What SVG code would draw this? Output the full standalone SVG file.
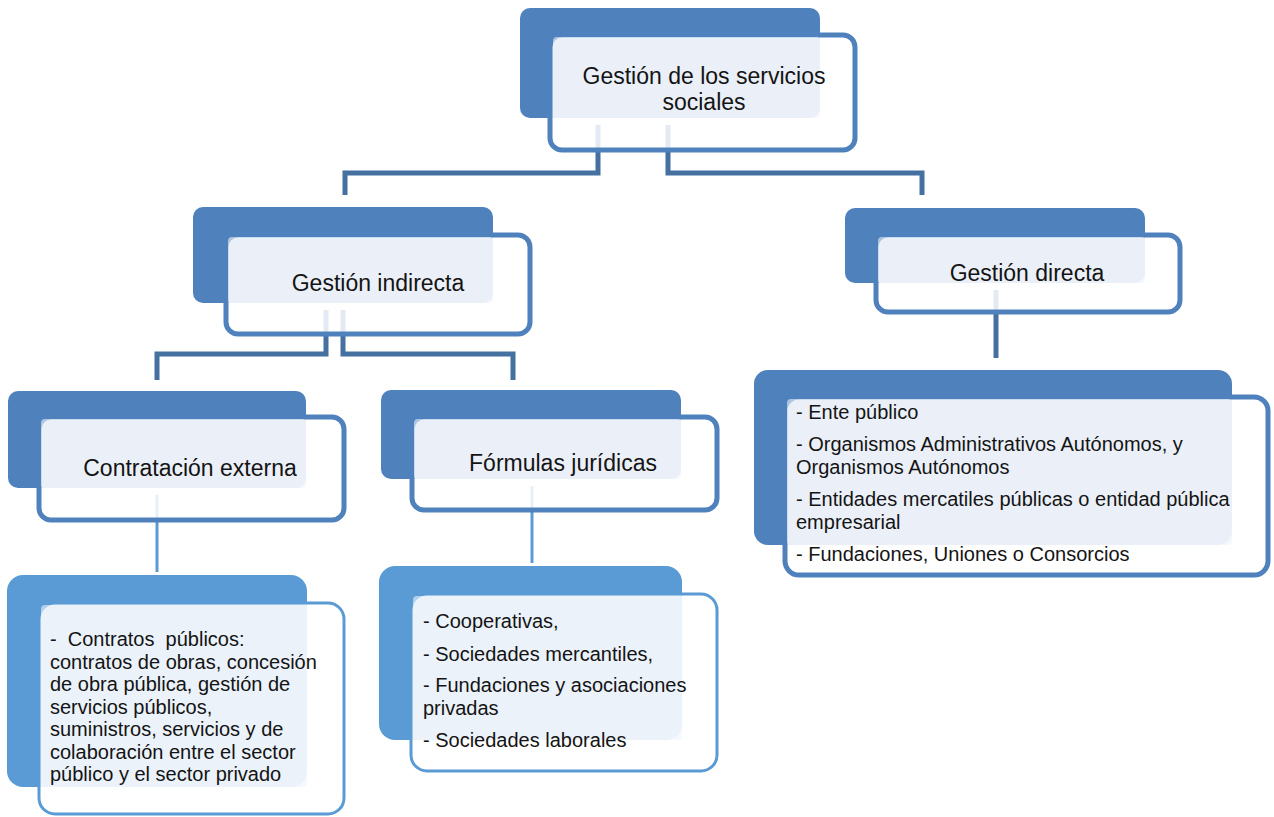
<svg xmlns="http://www.w3.org/2000/svg" width="1274" height="817" viewBox="0 0 1274 817">
<style>
.bk{fill:#4F81BD}
.bkl{fill:#5B9BD5}
.fr{fill:#ffffff;fill-opacity:0.85;stroke:#4F81BD;stroke-width:5}
.frl{fill:#ffffff;fill-opacity:0.85;stroke:#5B9BD5;stroke-width:3}
.lb{fill:#EEF3FA;fill-opacity:0.6}
.c1{fill:none;stroke:#44719F;stroke-width:5}
.c2{fill:none;stroke:#5B9BD5;stroke-width:3}
text{font-family:"Liberation Sans",Arial,sans-serif;fill:#141414}
.t{font-size:23px;text-anchor:middle}
.l{font-size:20px}
.pre{white-space:pre}
</style>
<rect width="1274" height="817" fill="#ffffff"/>
<g id="connectors">
<path class="c1" d="M598,125 V173 H345 V195"/>
<path class="c1" d="M668,125 V173 H922 V195"/>
<path class="c1" d="M326,310 V354 H157 V380"/>
<path class="c1" d="M343,310 V354 H513 V380"/>
<path class="c1" d="M996,290 V358"/>
<path class="c2" d="M157,495 V572"/>
<path class="c2" d="M532,486 V563"/>
</g>
<g id="n-root">
<rect class="bk" x="520" y="8" width="300" height="110" rx="10"/>
<rect class="fr" x="550" y="35" width="305" height="115" rx="12"/>
<rect class="lb" x="553" y="37" width="267" height="81" rx="4"/>
<text class="t" x="704" y="84">Gestión de los servicios</text>
<text class="t" x="704" y="110">sociales</text>
</g>
<g id="n-indirecta">
<rect class="bk" x="193" y="207" width="300" height="96" rx="10"/>
<rect class="fr" x="226" y="235" width="304" height="99" rx="12"/>
<rect class="lb" x="228" y="237" width="265" height="66" rx="4"/>
<text class="t" x="378" y="291">Gestión indirecta</text>
</g>
<g id="n-directa">
<rect class="bk" x="845" y="208" width="300" height="75" rx="10"/>
<rect class="fr" x="876" y="235" width="304" height="77" rx="12"/>
<rect class="lb" x="878" y="237" width="267" height="46" rx="4"/>
<text class="t" x="1027" y="281">Gestión directa</text>
</g>
<g id="n-contratacion">
<rect class="bk" x="8" y="391" width="298" height="97" rx="10"/>
<rect class="fr" x="39" y="417" width="305" height="103" rx="12"/>
<rect class="lb" x="41" y="419" width="265" height="69" rx="4"/>
<text class="t" x="190" y="476">Contratación externa</text>
</g>
<g id="n-formulas">
<rect class="bk" x="381" y="390" width="300" height="89" rx="10"/>
<rect class="fr" x="412" y="417" width="305" height="93" rx="12"/>
<rect class="lb" x="414" y="419" width="267" height="60" rx="4"/>
<text class="t" x="563" y="471">Fórmulas jurídicas</text>
</g>
<g id="n-directa-list">
<rect class="bk" x="754" y="370" width="478" height="175" rx="14"/>
<rect class="fr" x="785" y="397" width="483" height="178" rx="14"/>
<rect class="lb" x="787" y="399" width="445" height="146" rx="4"/>
<text class="l" x="796" y="419">- Ente público</text>
<text class="l" x="796" y="451">- Organismos Administrativos Autónomos, y</text>
<text class="l" x="796" y="474">Organismos Autónomos</text>
<text class="l" x="796" y="506">- Entidades mercatiles públicas o entidad pública</text>
<text class="l" x="796" y="529">empresarial</text>
<text class="l" x="796" y="561">- Fundaciones, Uniones o Consorcios</text>
</g>
<g id="n-contratos-list">
<rect class="bkl" x="7" y="575" width="300" height="212" rx="16"/>
<rect class="frl" x="39" y="603" width="305" height="211" rx="16"/>
<rect class="lb" x="41" y="605" width="266" height="182" rx="4"/>
<text class="l pre" x="50" y="646">-  Contratos  públicos:</text>
<text class="l" x="50" y="668.5">contratos de obras, concesión</text>
<text class="l" x="50" y="691">de obra pública, gestión de</text>
<text class="l" x="50" y="713.5">servicios públicos,</text>
<text class="l" x="50" y="736">suministros, servicios y de</text>
<text class="l" x="50" y="758.5">colaboración entre el sector</text>
<text class="l" x="50" y="781">público y el sector privado</text>
</g>
<g id="n-formulas-list">
<rect class="bkl" x="379" y="566" width="303" height="174" rx="16"/>
<rect class="frl" x="411" y="594" width="306" height="177" rx="16"/>
<rect class="lb" x="413" y="596" width="269" height="144" rx="4"/>
<text class="l" x="423" y="628">- Cooperativas,</text>
<text class="l" x="423" y="661">- Sociedades mercantiles,</text>
<text class="l" x="423" y="692">- Fundaciones y asociaciones</text>
<text class="l" x="423" y="715">privadas</text>
<text class="l" x="423" y="747">- Sociedades laborales</text>
</g>
</svg>
